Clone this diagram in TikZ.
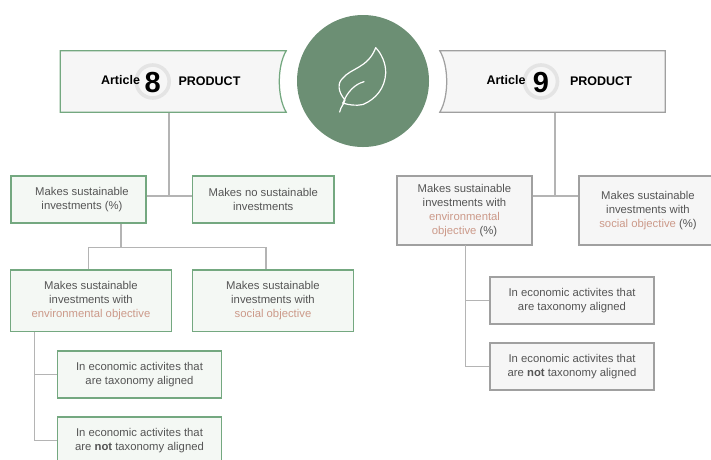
\documentclass[tikz,border=0pt]{standalone}
\usepackage{fontspec}
\setmainfont{Liberation Sans}
\definecolor{gstroke}{HTML}{74A880}
\definecolor{gfill}{HTML}{F4F8F4}
\definecolor{nstroke}{HTML}{A0A0A0}
\definecolor{nfill}{HTML}{F6F6F6}
\definecolor{conn}{HTML}{B4B4B4}
\definecolor{leafbg}{HTML}{6C8F74}
\definecolor{salmon}{HTML}{CC9A8A}
\definecolor{bodytext}{HTML}{555555}
\definecolor{ringc}{HTML}{E4E4E4}
\tikzset{
  boxbase/.style={rectangle,draw,line width=1.25pt,align=center,text=bodytext,inner sep=0pt,
    font=\fontsize{11.3}{14}\selectfont,
    execute at begin node={\rule{0pt}{11pt}}},
  greenbox/.style={boxbase,draw=gstroke,fill=gfill},
  greybox/.style={boxbase,draw=nstroke,fill=nfill},
  size/.style n args={2}{minimum width=#1pt,minimum height=#2pt},
  link/.style={draw=conn,line width=1.2pt},
  banner/.style={line width=1.25pt,line join=miter},
  headtext/.style={font=\fontsize{12.5}{14}\bfseries\selectfont,text=black,inner sep=0pt},
  bignum/.style={font=\fontsize{29}{29}\bfseries\selectfont,text=black,inner sep=0pt},
  ring/.style={circle,draw=ringc,line width=3.6pt,minimum size=33pt,inner sep=0pt},
  hidden/.style={rectangle,inner sep=0pt}
}
\newcommand{\sal}[1]{\textcolor{salmon}{#1}}
\begin{document}
\begin{tikzpicture}[x=1pt,y=-1pt]
\useasboundingbox (0,0) rectangle (711,459);
\clip (0,0) rectangle (711,459);

% header anchors
\node[hidden,size={225.5}{61}] (a8) at (173.25,81.5) {};
\node[hidden,size={225}{61}] (a9) at (552.5,81.5) {};

% junctions
\coordinate (j8) at (169,196);
\coordinate (k8) at (121,247.5);
\coordinate (v8) at (34.5,331.5);
\coordinate (j9) at (555,196);
\coordinate (v9) at (465.5,245);

% boxes
\node[greenbox,size={135}{47}] (sust8) at (78.5,199.5) {\hspace*{7pt}Makes sustainable\\\hspace*{7pt}investments (\%)};
\node[greenbox,size={141.5}{47}] (nosust8) at (263.25,199.5) {Makes no sustainable\\investments};
\node[greenbox,size={161}{61.5}] (env8) at (91,300.75) {Makes sustainable\\investments with\\\sal{environmental objective}};
\node[greenbox,size={161}{61.5}] (soc8) at (273,300.75) {Makes sustainable\\investments with\\\sal{social objective}};
\node[greenbox,size={164}{47}] (tax8) at (139.5,374.5) {In economic activites that\\are taxonomy aligned};
\node[greenbox,size={164}{47}] (not8) at (139.5,440.5) {In economic activites that\\are \textbf{not} taxonomy aligned};

\node[greybox,size={135}{69}] (env9) at (464.5,210.5) {Makes sustainable\\investments with\\\sal{environmental}\\\sal{objective} (\%)};
\node[greybox,size={138}{69}] (soc9) at (648,210.5) {Makes sustainable\\investments with\\\sal{social objective} (\%)};
\node[greybox,size={164}{47}] (tax9) at (572,300.5) {In economic activites that\\are taxonomy aligned};
\node[greybox,size={164}{47}] (not9) at (572,366.5) {In economic activites that\\are \textbf{not} taxonomy aligned};

% connectors
\draw[link] (j8 |- a8.south) -- (j8);
\draw[link] (sust8.east |- j8) -- (nosust8.west |- j8);
\draw[link] (k8 |- sust8.south) -- (k8);
\draw[link] (88.5,0 |- env8.north) |- (k8) -| (266,0 |- soc8.north);
\draw[link] (v8) |- (not8.west);
\draw[link] (v8 |- tax8.west) -- (tax8.west);
\draw[link] (j9 |- a9.south) -- (j9);
\draw[link] (env9.east |- j9) -- (soc9.west |- j9);
\draw[link] (v9) |- (not9.west);
\draw[link] (v9 |- tax9.west) -- (tax9.west);

% header banners
\draw[banner,draw=gstroke,fill=nfill] (a8.north west) -- (a8.north east)
  .. controls (277,66) and (277,97) .. (a8.south east) -- (a8.south west) -- cycle;
\draw[banner,draw=nstroke,fill=nfill] (a9.north east) -- (a9.north west)
  .. controls (449,66) and (449,97) .. (a9.south west) -- (a9.south east) -- cycle;

% header content
\node[ring] (r8) at (152.7,81.5) {};
\node[ring] (r9) at (541,81.5) {};
\node[bignum] (n8) at (152.7,82.5) {8};
\node[bignum] (n9) at (541,82.5) {9};
\node[headtext] (t8a) at (120.5,80.5) {Article};
\node[headtext] (t8b) at (209.5,81) {PRODUCT};
\node[headtext] (t9a) at (506,80.5) {Article};
\node[headtext] (t9b) at (601,81) {PRODUCT};

% emblem
\node[circle,fill=leafbg,minimum size=132pt,inner sep=0pt] (emblem) at (363,81) {};
\draw[white,line width=1.2pt,line cap=round,line join=round]
  (339.7,112) .. controls (341,106) and (343,106) .. (345,100)
  .. controls (338,92) and (337,83) .. (343,78)
  .. controls (351,68) and (368,68) .. (375.7,47.7)
  .. controls (381,53) and (386,63) .. (385.7,73)
  .. controls (385,88) and (376,99) .. (363,104.5)
  .. controls (356,106) and (349,105) .. (342.5,103);
\draw[white,line width=1.2pt,line cap=round]
  (364,81.7) .. controls (355,84) and (347,92) .. (343,103);
\end{tikzpicture}
\end{document}
